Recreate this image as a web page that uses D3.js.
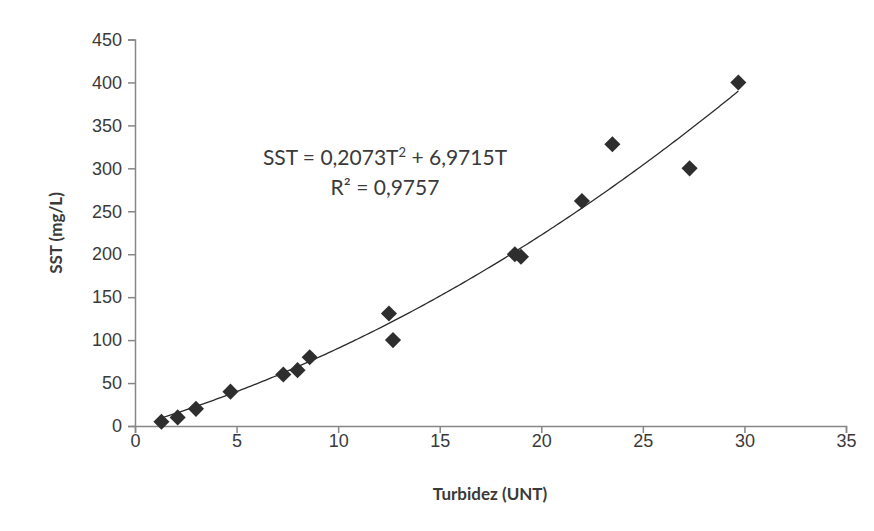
<!DOCTYPE html>
<html>
<head>
<meta charset="utf-8">
<script src="https://cdn.jsdelivr.net/npm/d3@7"></script>
<style>
  html, body { margin: 0; padding: 0; background: #fff; }
  svg { display: block; font-family: Lato, "Open Sans", sans-serif; }
</style>
</head>
<body>
<svg id="chart" width="874" height="531"></svg>
<script>
// turbidity (UNT) vs total suspended solids (mg/L)
const turbidez = [1.3, 2.1, 3.0, 4.7, 7.3, 8.0, 8.6, 12.5, 12.7, 18.7, 19.0, 22.0, 23.5, 27.3, 29.7];
const sst = [5, 10, 20, 40, 60, 65, 80, 131, 100, 200, 197, 262, 328, 300, 400];

const xTicks = [0, 5, 10, 15, 20, 25, 30, 35];
const yTicks = [0, 50, 100, 150, 200, 250, 300, 350, 400, 450];

// quadratic trend through origin
const coefA = 0.2073;
const coefB = 6.9715;
const eqLines = ["SST = 0,2073T", "R² = 0,9757"];

const svg = d3.select("#chart");
const margin = { top: 39.5, right: 28, bottom: 105, left: 135 };
const width = 874, height = 531;

const x = d3.scaleLinear().domain([0, 35]).range([margin.left, width - margin.right]);
const y = d3.scaleLinear().domain([0, 450]).range([height - margin.bottom, margin.top]);

const axisColor = "#868686";
const textColor = "#3a3a3a";

// trend line
const trend = d3.range(0, 201).map((i) => {
  const t = d3.min(turbidez) + (d3.max(turbidez) - d3.min(turbidez)) * i / 200;
  return [t, coefA * t * t + coefB * t];
});

svg.append("g")
  .attr("transform", `translate(0,${y(0)})`)
  .call(d3.axisBottom(x).tickValues(xTicks).tickSize(7).tickPadding(1))
  .call((g) => g.select(".domain").attr("stroke", axisColor).attr("stroke-width", 1.5))
  .call((g) => g.selectAll("line").attr("stroke", axisColor).attr("stroke-width", 1.5))
  .call((g) => g.selectAll("text").attr("fill", textColor).style("font-size", "18px"));

svg.append("g")
  .attr("transform", `translate(${x(0)},0)`)
  .call(d3.axisLeft(y).tickValues(yTicks).tickSize(7).tickPadding(6))
  .call((g) => g.select(".domain").attr("stroke", axisColor).attr("stroke-width", 1.5))
  .call((g) => g.selectAll("line").attr("stroke", axisColor).attr("stroke-width", 1.5))
  .call((g) => g.selectAll("text").attr("fill", textColor).style("font-size", "18px"));

svg.append("path")
  .datum(trend)
  .attr("d", d3.line().x((d) => x(d[0])).y((d) => y(d[1])))
  .attr("fill", "none")
  .attr("stroke", "#2b2b2b")
  .attr("stroke-width", 1.3);

const diamond = d3.symbol().type(d3.symbolSquare).size(130);
svg.append("g")
  .selectAll("path")
  .data(turbidez.map((t, i) => [t, sst[i]]))
  .join("path")
  .attr("d", diamond)
  .attr("transform", (d) => `translate(${x(d[0])},${y(d[1])}) rotate(45)`)
  .attr("fill", "#2e2e2e");

// equation label
const eq = svg.append("text")
  .attr("x", 385).attr("y", 165)
  .attr("text-anchor", "middle")
  .attr("fill", textColor)
  .style("font-size", "21px");
eq.append("tspan").text(eqLines[0]);
eq.append("tspan").attr("dy", -8).style("font-size", "13px").text("2");
eq.append("tspan").attr("dy", 8).text(" + 6,9715T");

svg.append("text")
  .attr("x", 385).attr("y", 195)
  .attr("text-anchor", "middle")
  .attr("fill", textColor)
  .style("font-size", "21px")
  .text(eqLines[1]);

svg.append("text")
  .attr("x", 490).attr("y", 500)
  .attr("text-anchor", "middle")
  .attr("fill", textColor)
  .style("font-size", "17px")
  .style("font-weight", "bold")
  .text("Turbidez (UNT)");

svg.append("text")
  .attr("transform", "translate(62,233) rotate(-90)")
  .attr("text-anchor", "middle")
  .attr("fill", textColor)
  .style("font-size", "17px")
  .style("font-weight", "bold")
  .text("SST (mg/L)");
</script>
</body>
</html>
